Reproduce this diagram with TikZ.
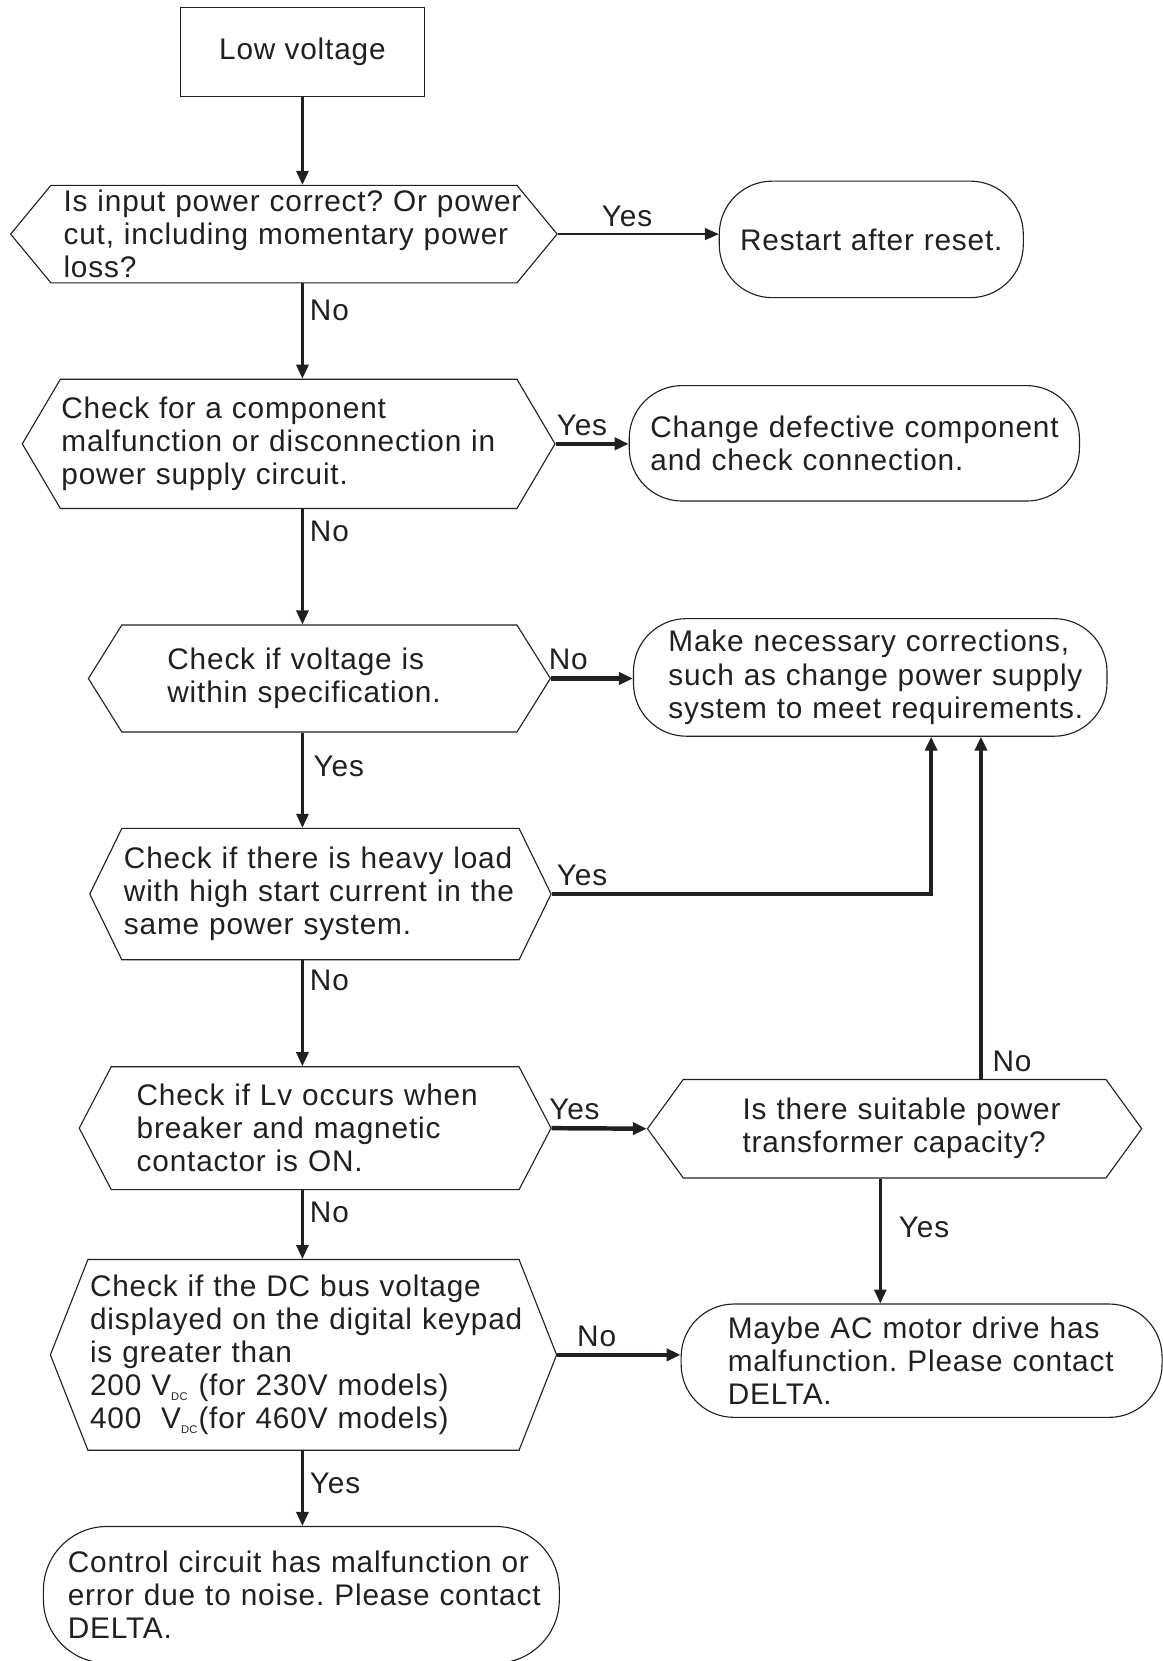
\documentclass[tikz,border=0pt]{standalone}
\usepackage{fontspec}
\setmainfont{Liberation Sans}[LetterSpace=2.8]
\usetikzlibrary{arrows.meta,shapes.symbols}
\definecolor{encre}{RGB}{35,31,32}
\newcommand{\vdc}{V\textsubscript{\fontsize{6}{6}\selectfont DC}}

\begin{document}
\begin{tikzpicture}[
    >={Triangle[length=7.5pt,width=6.5pt]},
    font=\fontsize{16}{17.8}\selectfont\frenchspacing,
    text=encre,
    debut/.style={
        rectangle,
        draw=encre,
        line width=0.6pt,
        minimum width=4.62cm,
        minimum height=1.68cm
    },
    question/.style={
        signal,
        signal to=east and west,
        draw=encre,
        line width=0.6pt,
        align=left,
        inner ysep=0pt
    },
    issue/.style={
        rectangle,
        rounded corners=1cm,
        draw=encre,
        line width=0.6pt,
        align=left,
        inner xsep=0pt,
        inner ysep=0pt
    },
    decal/.style={execute at begin node={\leftskip=#1}},
    lienfin/.style={->, draw=encre, line width=0.7pt},
    lien/.style={->, draw=encre, line width=1.4pt},
    lienmoyen/.style={->, draw=encre, line width=1.9pt},
    liengras/.style={->, draw=encre, line width=2.4pt}
]
\useasboundingbox (0,0) rectangle (21.94,-31.36);

\node[debut] (lv) at (5.71,-0.98) {Low voltage};

\node[question, minimum height=1.84cm, text width=9.48cm, inner xsep=-0.34cm,
    decal=0.58cm, signal pointer angle=101] (q1) at (5.36,-4.42)
{Is input power correct? Or power\\cut, including momentary power\\loss?};
\node[issue, minimum width=5.74cm, minimum height=2.2cm, text width=5.2cm,
    align=center] (r1) at (16.45,-4.52) {Restart after reset.};

\node[question, minimum height=2.44cm, text width=8.58cm, inner xsep=0.02cm,
    signal pointer angle=119] (q2) at (5.45,-8.38)
{Check for a component\\malfunction or disconnection in\\power supply circuit.};
\node[issue, minimum width=8.5cm, minimum height=2.18cm, text width=8.22cm,
    decal=0.26cm] (r2) at (16.13,-8.37)
{Change defective component\\and check connection.};

\node[question, minimum height=2.02cm, text width=5.74cm, inner xsep=0.86cm,
    signal pointer angle=116] (q3) at (6.03,-12.81)
{Check if voltage is\\within specification.};
\node[issue, minimum width=8.94cm, minimum height=2.22cm, text width=8.54cm,
    decal=0.46cm] (r3) at (16.43,-12.79)
{Make necessary corrections,\\such as change power supply\\system to meet requirements.};

\node[question, minimum height=2.48cm, text width=7.58cm, inner xsep=-0.04cm,
    decal=0.08cm, signal pointer angle=128] (q4) at (6.05,-16.88)
{Check if there is heavy load\\with high start current in the\\same power system.};

\node[question, minimum height=2.32cm, text width=6.74cm, inner xsep=0.48cm,
    signal pointer angle=125] (q5) at (5.95,-21.3)
{Check if Lv occurs when\\breaker and magnetic\\contactor is ON.};
\node[question, minimum height=1.86cm, text width=6.54cm, inner xsep=0.72cm,
    decal=0.4cm, signal pointer angle=108] (q6) at (16.89,-21.31)
{Is there suitable power\\transformer capacity?};

\node[question, minimum height=3.6cm, text width=8.58cm, inner xsep=-0.22cm,
    decal=0.26cm, signal pointer angle=137] (q7) at (5.73,-25.58)
{Check if the DC bus voltage\\displayed on the digital keypad\\is greater than\\
200 \vdc{} (for 230V models)\\400\ \ \vdc(for 460V models)};
\node[issue, minimum width=9.08cm, minimum height=2.14cm, text width=7.8cm,
    decal=0.24cm] (r4) at (17.4,-25.69)
{Maybe AC motor drive has\\malfunction. Please contact\\DELTA.};

\node[issue, rounded corners=1.2cm, minimum width=9.74cm, minimum height=2.58cm,
    text width=9.54cm, decal=0.36cm] (r5) at (5.69,-30.11)
{Control circuit has malfunction or\\error due to noise. Please contact\\DELTA.};

\draw[lien] (lv.south) -- (q1.north -| lv.south);

\draw[lienfin] (q1.east) -- node[above, pos=.43] {Yes} (q1.east -| r1.west);
\draw[lien] (q1.south -| lv.south) -- node[right, pos=.28] {No}
(q2.north -| lv.south);

\draw[liengras] (q2.east) -- node[above, pos=.36] {Yes} (q2.east -| r2.west);
\draw[lien] (q2.south -| lv.south) -- node[right, pos=.19] {No}
(q3.north -| lv.south);

\draw[liengras] (q3.east) -- node[above, pos=.21] {No} (q3.east -| r3.west);
\draw[lien] (q3.south -| lv.south) -- node[right=2pt, pos=.36] {Yes}
(q4.north -| lv.south);

\draw[lienmoyen] (q4.east) -| node[above, pos=.04] {Yes}
([xshift=1.15cm]r3.south);
\draw[lien] (q4.south -| lv.south) -- node[right, pos=.19] {No}
(q5.north -| lv.south);

\draw[liengras] (q5.east) -- node[above, pos=.24] {Yes} (q6.west);
\draw[lienmoyen] ([xshift=1.63cm]q6.north) -- node[right=2pt, pos=.05] {No}
([xshift=1.63cm]q6.north |- r3.south);
\draw[lien] ([xshift=-0.27cm]q6.south) -- node[right=6pt, pos=.39] {Yes}
([xshift=-0.27cm]q6.south |- r4.north);

\draw[lien] (q5.south -| lv.south) -- node[right, pos=.33] {No}
(q7.north -| lv.south);
\draw[liengras] (q7.east) -- node[above, pos=.32] {No} (q7.east -| r4.west);
\draw[lien] (q7.south -| lv.south) -- node[right, pos=.43] {Yes}
(r5.north -| lv.south);

\end{tikzpicture}
\end{document}
